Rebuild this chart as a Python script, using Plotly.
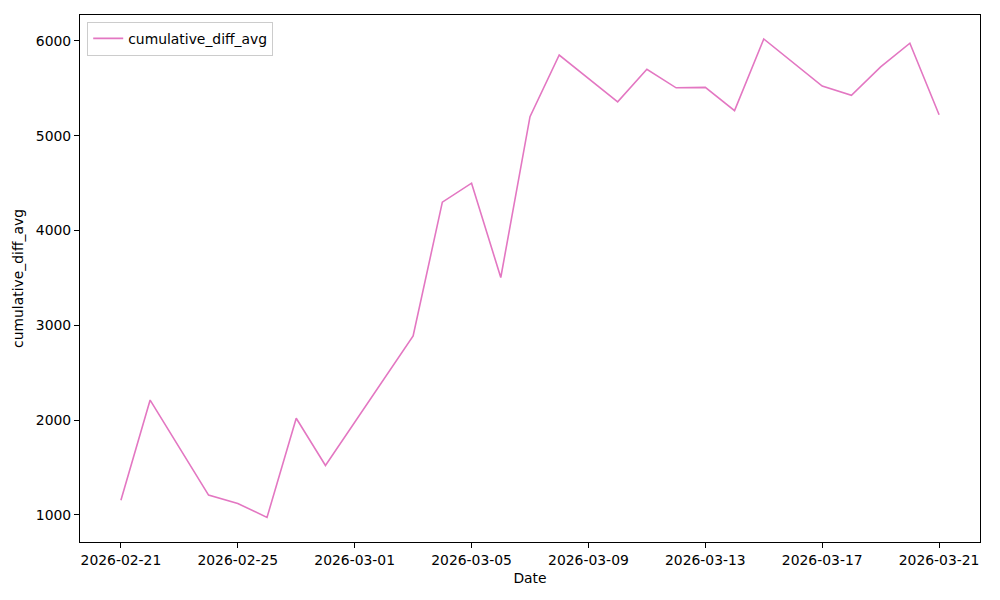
import plotly.graph_objects as go

dates = ["2026-02-21", "2026-02-22", "2026-02-24", "2026-02-25", "2026-02-26",
         "2026-02-27", "2026-02-28", "2026-03-03", "2026-03-04", "2026-03-05",
         "2026-03-06", "2026-03-07", "2026-03-08", "2026-03-10", "2026-03-11",
         "2026-03-12", "2026-03-13", "2026-03-14", "2026-03-15", "2026-03-17",
         "2026-03-18", "2026-03-19", "2026-03-20", "2026-03-21"]
values = [1155, 2212, 1210, 1122, 974,
          2020, 1522, 2888, 4300, 4500,
          3505, 5202, 5852, 5358, 5702,
          5506, 5511, 5265, 6021, 5525,
          5427, 5727, 5976, 5222]
series_name = "cumulative_diff_avg"

font = dict(family="DejaVu Sans", size=13.9, color="black")

fig = go.Figure()
fig.add_trace(go.Scatter(x=dates, y=values, mode="lines", name=series_name,
                         line=dict(color="#e377c2", width=1.6)))

fig.update_layout(
    width=1000, height=600,
    margin=dict(l=72, r=28, t=7, b=66),
    paper_bgcolor="white", plot_bgcolor="white",
    font=font,
    showlegend=True,
    legend=dict(x=0.008, y=0.987, xanchor="left", yanchor="top",
                bordercolor="#cccccc", borderwidth=1, bgcolor="rgba(255,255,255,0.8)",
                font=font),
)
fig.update_xaxes(
    type="date", range=["2026-02-19 14:24", "2026-03-22 09:36"],
    tick0="2026-02-21", dtick=4 * 86400000, tickformat="%Y-%m-%d",
    showgrid=False, zeroline=False,
    showline=True, mirror=True, linecolor="black", linewidth=1,
    ticks="outside", ticklen=5, tickcolor="black",
    title=dict(text="Date", font=font, standoff=6),
)
fig.update_yaxes(
    range=[715, 6274], tickvals=[1000, 2000, 3000, 4000, 5000, 6000],
    showgrid=False, zeroline=False,
    showline=True, mirror=True, linecolor="black", linewidth=1,
    ticks="outside", ticklen=5, tickcolor="black",
    title=dict(text=series_name, font=font, standoff=8),
)

fig.write_html("out.html")
